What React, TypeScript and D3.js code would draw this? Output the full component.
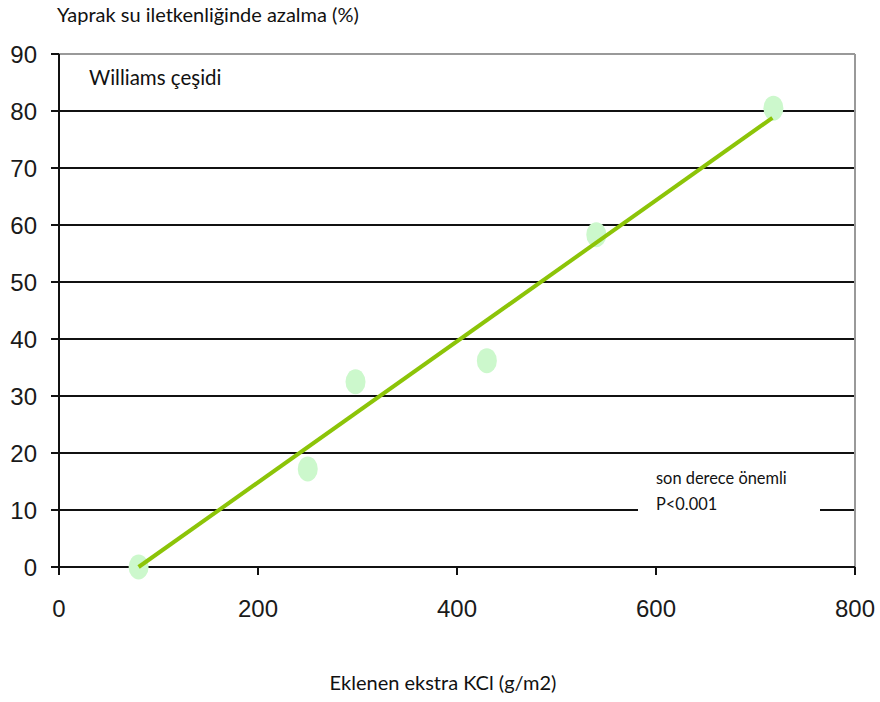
import React from "react";
import * as d3 from "d3";

const kcl = [80, 250, 298, 430, 540, 718];
const reduction = [0, 17.2, 32.5, 36.2, 58.3, 80.5];
const fitX = [80, 717];
const fitY = [0, 78.8];
const yTicks = [0, 10, 20, 30, 40, 50, 60, 70, 80, 90];
const xTicks = [0, 200, 400, 600, 800];

export default function App() {
  const x = d3.scaleLinear().domain([0, 800]).range([59, 855]);
  const y = d3.scaleLinear().domain([0, 90]).range([567, 54]);
  const line = d3.line<number>().x((d, i) => x(fitX[i])).y((d) => y(d));
  const tickFont = "'Liberation Sans', Arial, sans-serif";
  const textFont = "Lato, 'Open Sans', sans-serif";
  return (
    <svg width={880} height={702} style={{ position: "absolute", left: 0, top: 0, background: "#fff" }}>
      <rect width={880} height={702} fill="#fff" />
      {yTicks.filter((t) => t > 0 && t < 90).map((t) => (
        <line key={t} x1={51} x2={855} y1={y(t)} y2={y(t)} stroke="#111" strokeWidth={2} />
      ))}
      <line x1={51} x2={855} y1={y(90)} y2={y(90)} stroke="#999" strokeWidth={2} />
      <line x1={51} x2={59} y1={y(90)} y2={y(90)} stroke="#111" strokeWidth={2} />
      <line x1={855} x2={855} y1={y(90)} y2={y(0)} stroke="#999" strokeWidth={2} />
      <rect x={638} y={465} width={182} height={60} fill="#fff" />
      <line x1={x(0)} x2={x(0)} y1={y(90)} y2={y(0) + 8} stroke="#111" strokeWidth={2} />
      <line x1={51} x2={855} y1={y(0)} y2={y(0)} stroke="#111" strokeWidth={2} />
      {xTicks.map((t) => (
        <line key={t} x1={x(t)} x2={x(t)} y1={y(0)} y2={y(0) + 8} stroke="#111" strokeWidth={2} />
      ))}
      {yTicks.map((t) => (
        <text key={t} x={37} y={y(t)} dy="0.36em" textAnchor="end" fontFamily={tickFont} fontSize={24} fill="#1a1a1a">
          {t}
        </text>
      ))}
      {xTicks.map((t) => (
        <text key={t} x={x(t)} y={617} textAnchor="middle" fontFamily={tickFont} fontSize={24} fill="#1a1a1a">
          {t}
        </text>
      ))}
      {kcl.map((k, i) => (
        <ellipse key={i} cx={x(k)} cy={y(reduction[i])} rx={10} ry={12.5} fill="#ccf8cc" />
      ))}
      <path d={line(fitY) || ""} stroke="#8cc408" strokeWidth={4} fill="none" />
      <text x={57} y={22} fontFamily={textFont} fontSize={20} fill="#111">Yaprak su iletkenliğinde azalma (%)</text>
      <text x={89} y={85} fontFamily={textFont} fontSize={20.5} fill="#111">Williams çeşidi</text>
      <text x={656} y={484} fontFamily={textFont} fontSize={16.4} fill="#111">son derece önemli</text>
      <text x={656} y={510} fontFamily={textFont} fontSize={16.4} fill="#111">P&lt;0.001</text>
      <text x={443} y={690} textAnchor="middle" fontFamily={textFont} fontSize={20} fill="#111">Eklenen ekstra KCl (g/m2)</text>
    </svg>
  );
}
